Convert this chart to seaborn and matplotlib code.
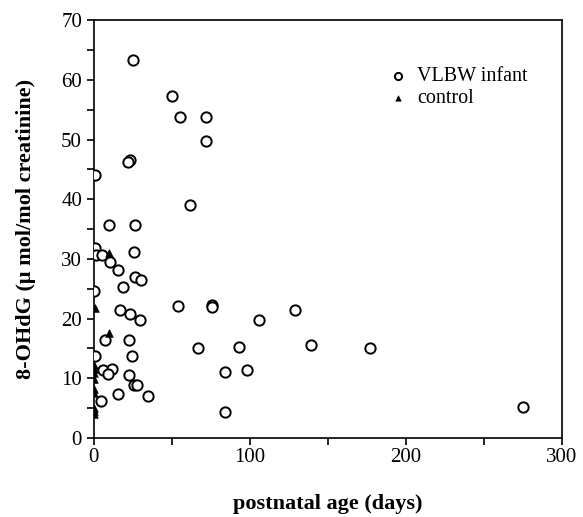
import matplotlib
matplotlib.use("Agg")
import matplotlib.pyplot as plt
from matplotlib.ticker import MultipleLocator
import seaborn as sns
import pandas as pd

# VLBW infants: postnatal age (days) and 8-OHdG (umol/mol creatinine)
vlbw_days = [25, 50, 55, 72, 72, 23, 22, 0.5, 61.5, 9.5, 26.5, 1, 25.5,
             1.3, 5.3, 10.3, 15.6, 26.3, 30.5, 18.8, 0.2, 16.7, 23, 29.7,
             54, 75.5, 75.5, 106, 7, 22.2, 66.7, 93, 0.8, 24.6, 5.6, 11.7,
             9.2, 22.2, 25.6, 27.4, 84, 98, 15.6, 34.4, 4.3, 84, 128.6, 139,
             177, 275]
vlbw_ohdg = [63.3, 57.3, 53.8, 53.8, 49.7, 46.6, 46.2, 44.1, 39.1, 35.6,
             35.6, 31.9, 31.2, 30.6, 30.6, 29.4, 28.1, 26.9, 26.4, 25.3, 24.6,
             21.4, 20.8, 19.8, 22.1, 22.3, 22.0, 19.8, 16.4, 16.4, 15.1, 15.3,
             13.8, 13.7, 11.4, 11.6, 10.7, 10.5, 8.8, 8.8, 11.0, 11.4, 7.4,
             7.1, 6.1, 4.3, 21.4, 15.5, 15.1, 5.2]

# controls
ctrl_days = [9.8, 1, 9.8, 0, 0, 0, 0, 0, 0, 0, 0, 0]
ctrl_ohdg = [31.0, 21.8, 17.5, 12.2, 11.5, 10.8, 9.8, 8.2, 7.6, 5.0, 4.5, 4.0]

df_v = pd.DataFrame({"days": vlbw_days, "ohdg": vlbw_ohdg})
df_c = pd.DataFrame({"days": ctrl_days, "ohdg": ctrl_ohdg})

sns.set_style("white")
plt.rcParams["font.family"] = ["Liberation Serif", "DejaVu Serif"]
plt.rcParams["text.color"] = "black"
plt.rcParams["axes.labelcolor"] = "black"
plt.rcParams["xtick.color"] = "black"
plt.rcParams["ytick.color"] = "black"

fig = plt.figure(figsize=(5.83, 5.17), dpi=100)
ax = fig.add_axes([0.161, 0.153, 0.803, 0.808])

sns.scatterplot(data=df_v, x="days", y="ohdg", ax=ax, marker="o", s=55,
                facecolor="white", edgecolor="black", linewidth=1.4,
                label="VLBW infant", zorder=3)
sns.scatterplot(data=df_c, x="days", y="ohdg", ax=ax, marker="^", s=30,
                color="black", edgecolor="black", linewidth=0.5,
                label="control", zorder=4)

ax.set_xlim(0, 300)
ax.set_ylim(0, 70)
ax.xaxis.set_major_locator(MultipleLocator(100))
ax.xaxis.set_minor_locator(MultipleLocator(50))
ax.yaxis.set_major_locator(MultipleLocator(10))
ax.yaxis.set_minor_locator(MultipleLocator(5))
ax.tick_params(axis="both", which="both", direction="out", length=5,
               width=1.2, labelsize=15, bottom=True, left=True)
ax.tick_params(axis="x", which="major", pad=2)

for sp in ax.spines.values():
    sp.set_color("black")
    sp.set_linewidth(1.2)

ax.set_xlabel("postnatal age (days)", fontsize=16, fontweight="bold", labelpad=20)
ax.set_ylabel("8-OHdG (\u03bc mol/mol creatinine)", fontsize=16,
              fontweight="bold", labelpad=18)

leg = ax.legend(loc="center left", bbox_to_anchor=(0.666, 0.83),
                bbox_transform=fig.transFigure, frameon=False, fontsize=14.5,
                markerscale=0.7, handlelength=1.0, handletextpad=0.45,
                labelspacing=0.15, borderpad=0, borderaxespad=0)

fig.savefig("out.png", dpi=100)
